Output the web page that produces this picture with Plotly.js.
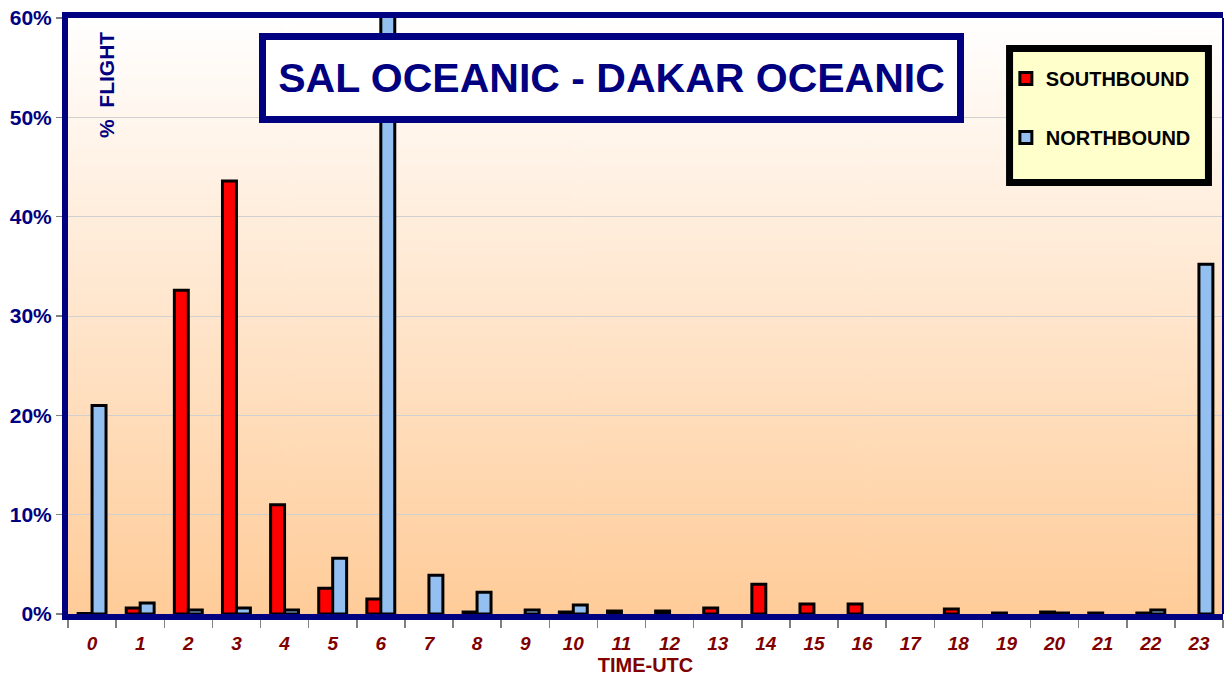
<!DOCTYPE html>
<html>
<head>
<meta charset="utf-8">
<script src="https://cdn.plot.ly/plotly-3.0.1.min.js"></script>
<style>
html,body{margin:0;padding:0;background:#fff;}
#chart{width:1227px;height:679px;}
</style>
</head>
<body>
<div id="chart"></div>
<script>
const hours = ['0','1','2','3','4','5','6','7','8','9','10','11','12','13','14','15','16','17','18','19','20','21','22','23'];
const southbound = [0.05, 0.6, 32.6, 43.6, 11.0, 2.6, 1.5, null, 0.2, null, 0.2, 0.3, 0.3, 0.6, 3.0, 1.0, 1.0, null, 0.5, 0.1, 0.2, 0.1, 0.1, null];
const northbound = [21.0, 1.1, 0.4, 0.6, 0.4, 5.6, 62, 3.9, 2.2, 0.4, 0.9, null, null, null, null, null, null, null, null, null, 0.1, null, 0.4, 35.2];
const chartTitle = 'SAL OCEANIC - DAKAR OCEANIC';
const seriesNames = ['SOUTHBOUND', 'NORTHBOUND'];

const NAVY = '#000080';
const MAROON = '#800000';
const FONT = 'Arial, "Liberation Sans", sans-serif';

// vertical gradient background image for the plot area
const cv = document.createElement('canvas');
cv.width = 8; cv.height = 600;
const ctx = cv.getContext('2d');
const g = ctx.createLinearGradient(0, 0, 0, 600);
g.addColorStop(0, '#FFFFFF');
g.addColorStop(1, '#FFCC99');
ctx.fillStyle = g;
ctx.fillRect(0, 0, 8, 600);
const bgURL = cv.toDataURL('image/png');

const traces = [
  {
    type: 'bar', name: seriesNames[0], x: hours, y: southbound,
    legendgroup: 's',
    marker: {color: '#FF0000', line: {color: '#000000', width: 3}}
  },
  {
    type: 'bar', name: seriesNames[1], x: hours, y: northbound,
    legendgroup: 'n',
    marker: {color: '#93C0F0', line: {color: '#000000', width: 3}}
  }
];

const layout = {
  width: 1227, height: 679,
  margin: {l: 68, r: 4, t: 18, b: 65},
  paper_bgcolor: '#FFFFFF',
  plot_bgcolor: 'rgba(0,0,0,0)',
  barmode: 'group',
  bargap: 0.42,
  bargroupgap: 0,
  font: {family: FONT},
  showlegend: true,
  legend: {
    x: 0.812, xanchor: 'left', y: 0.931, yanchor: 'top',
    bgcolor: 'rgba(0,0,0,0)', borderwidth: 0,
    traceorder: 'grouped', tracegroupgap: 30,
    font: {family: FONT, size: 20, color: '#000000', weight: 'bold'}
  },
  xaxis: {
    type: 'category',
    tickson: 'boundaries',
    ticks: 'outside', ticklen: 8, tickwidth: 1.5, tickcolor: '#808080',
    ticklabelstandoff: 7,
    showline: true, linecolor: NAVY, linewidth: 6, mirror: true,
    showgrid: false, zeroline: false,
    tickfont: {family: FONT, size: 19, color: MAROON, weight: 'bold', style: 'italic'},
    title: {text: 'TIME-UTC', standoff: 0, font: {family: FONT, size: 20, color: MAROON, weight: 'bold'}}
  },
  yaxis: {
    range: [0, 60], dtick: 10, ticksuffix: '%',
    ticks: 'outside', ticklen: 6, tickwidth: 1.5, tickcolor: '#808080',
    showline: true, linecolor: NAVY, linewidth: 6,
    showgrid: true, gridcolor: '#D0D0D0', gridwidth: 1,
    zeroline: false,
    tickfont: {family: FONT, size: 21, color: NAVY, weight: 'bold'}
  },
  images: [{
    source: bgURL, xref: 'paper', yref: 'paper',
    x: 0, y: 1, sizex: 1, sizey: 1, sizing: 'stretch',
    xanchor: 'left', yanchor: 'top', layer: 'below'
  }],
  shapes: [
    {type: 'line', xref: 'paper', yref: 'paper', x0: 1, x1: 1, y0: 0, y1: 1,
     line: {color: NAVY, width: 2}},
    {type: 'rect', xref: 'paper', yref: 'paper',
     x0: 0.8152, x1: 0.9874, y0: 0.7240, y1: 0.9488,
     fillcolor: '#FFFFCC', line: {color: '#000000', width: 7}, layer: 'above'}
  ],
  annotations: [
    {
      text: chartTitle, xref: 'paper', yref: 'paper', x: 0.4706, y: 0.8985,
      xanchor: 'center', yanchor: 'middle', showarrow: false,
      width: 685, height: 70, borderpad: 3, borderwidth: 7,
      bordercolor: NAVY, bgcolor: '#FFFFFF',
      font: {family: FONT, size: 41, color: NAVY, weight: 'bold'}
    },
    {
      text: '%\u00A0\u00A0FLIGHT', xref: 'paper', yref: 'paper', x: 0.0338, y: 0.8876,
      xanchor: 'center', yanchor: 'middle', showarrow: false, textangle: -90,
      font: {family: FONT, size: 21, color: NAVY, weight: 'bold'}
    }
  ]
};

Plotly.newPlot('chart', traces, layout, {displayModeBar: false, staticPlot: true});
</script>
</body>
</html>
